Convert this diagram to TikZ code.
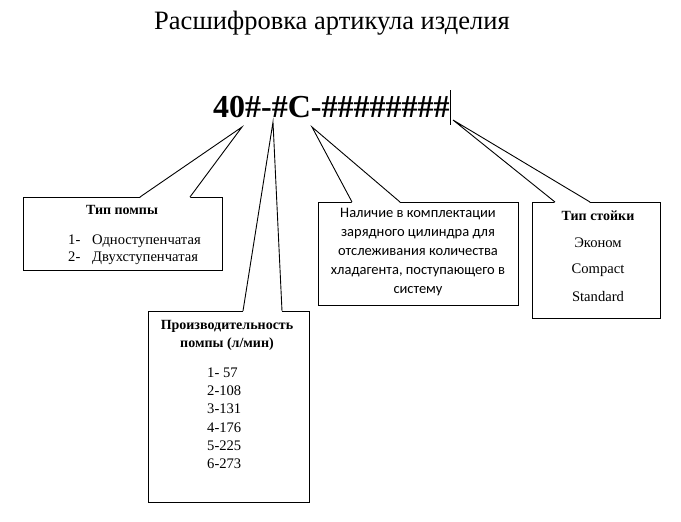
\documentclass[tikz,border=0pt]{standalone}
\usepackage{fontspec}
\setmainfont{Liberation Serif}
\newfontfamily\bodysans{Carlito}
\usetikzlibrary{calc}
\tikzset{callbox/.style={
            draw,
            fill=white,
            line width=0.9pt,
            inner sep=0pt,
            anchor=north west
        },
        wedge/.style={
            line width=0.9pt
        },
        boxtitle/.style={
            font=\fontsize{14}{16}\selectfont\bfseries,
            anchor=base
        },
        boxtext/.style={
            font=\fontsize{14.6}{16}\selectfont
        }
    }

\begin{document}
\begin{tikzpicture}[x=1pt,y=-1pt,every node/.style={inner sep=0pt}]
        \useasboundingbox (0,0) rectangle (681,522);

        \node[anchor=base, font=\fontsize{26.5}{30}\selectfont] (title) at (332,29) {Расшифровка артикула изделия};
        \node[anchor=base west, font=\fontsize{32}{36}\selectfont\bfseries] (code) at (213,117) {40\#-\#C-\#\#\#\#\#\#\#\#};
        \coordinate (cursortop) at (450,90);
        \coordinate (cursorbot) at (450,125);
        \draw[line width=0.9pt] (cursortop) -- (cursorbot);

        % tips of the pointers
        \coordinate (tip1) at (242,127);
        \coordinate (tip2) at (273,122);
        \coordinate (tip3) at (312,127);
        \coordinate (tip4) at (453,120);

        % pump type
        \node[callbox, minimum width=199, minimum height=73] (pumptype) at (23,197) {};
        \coordinate (p1a) at ($(pumptype.north west)+(117,0)$);
        \coordinate (p1b) at ($(pumptype.north west)+(167,0)$);
        \fill[white] ($(p1a)+(0,0.8)$) -- (tip1) -- ($(p1b)+(0,0.8)$) -- cycle;
        \draw[wedge] (p1a) -- (tip1) -- (p1b);
        \node[boxtitle] (pumptitle) at (122,214) {Тип помпы};
        \node[boxtext, anchor=base west] (stage1n) at (68,244) {1-};
        \node[boxtext, anchor=base west] (stage1) at (92,244) {Одноступенчатая};
        \node[boxtext, anchor=base west] (stage2n) at (68,261) {2-};
        \node[boxtext, anchor=base west] (stage2) at (92,261) {Двухступенчатая};

        % capacity
        \node[callbox, minimum width=161, minimum height=191] (capacity) at (148,311) {};
        \coordinate (p2a) at ($(capacity.north west)+(95,0)$);
        \coordinate (p2b) at ($(capacity.north west)+(134,0)$);
        \fill[white] ($(p2a)+(0,0.8)$) -- (tip2) -- ($(p2b)+(0,0.8)$) -- cycle;
        \draw[wedge] (p2a) -- (tip2) -- (p2b);
        \node[boxtitle] (captitle) at (227,329) {Производительность};
        \node[boxtitle] (capunit) at (227,347) {помпы (л/мин)};
        \node[boxtext, anchor=base west] (cap1) at (207,377) {1- 57};
        \node[boxtext, anchor=base west] (cap2) at (207,395) {2-108};
        \node[boxtext, anchor=base west] (cap3) at (207,413) {3-131};
        \node[boxtext, anchor=base west] (cap4) at (207,432) {4-176};
        \node[boxtext, anchor=base west] (cap5) at (207,450) {5-225};
        \node[boxtext, anchor=base west] (cap6) at (207,468) {6-273};

        % charging cylinder
        \node[callbox, minimum width=200, minimum height=103] (cylinder) at (318,202) {};
        \coordinate (p3a) at ($(cylinder.north west)+(34,0)$);
        \coordinate (p3b) at ($(cylinder.north west)+(82,0)$);
        \fill[white] ($(p3a)+(0,0.8)$) -- (tip3) -- ($(p3b)+(0,0.8)$) -- cycle;
        \draw[wedge] (p3a) -- (tip3) -- (p3b);
        \node[anchor=north, align=center, font=\bodysans\fontsize{14.5}{19}\selectfont] (cyltext) at (418,208)
            {Наличие в комплектации\\зарядного цилиндра для\\отслеживания количества\\хладагента, поступающего в\\систему};

        % stand type
        \node[callbox, minimum width=128, minimum height=116] (stand) at (532,202) {};
        \coordinate (p4a) at ($(stand.north west)+(23,0)$);
        \coordinate (p4b) at ($(stand.north west)+(58,0)$);
        \fill[white] ($(p4a)+(0,0.8)$) -- (tip4) -- ($(p4b)+(0,0.8)$) -- cycle;
        \draw[wedge] (p4a) -- (tip4) -- (p4b);
        \node[boxtitle] (standtitle) at (598,220) {Тип стойки};
        \node[boxtext] (stand1) at (598,243) {Эконом};
        \node[boxtext] (stand2) at (598,270) {Compact};
        \node[boxtext] (stand3) at (598,297) {Standard};

    \end{tikzpicture}
\end{document}
